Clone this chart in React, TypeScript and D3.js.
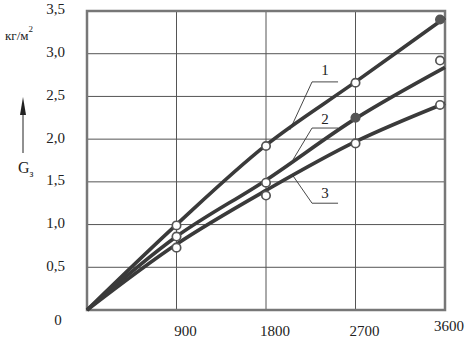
import { useEffect, useRef } from "react";
import * as d3 from "d3";

// time axis (s) and G values (kg/m^2)
const xTicks = [900, 1800, 2700, 3600];
const yTicks = [0.5, 1.0, 1.5, 2.0, 2.5, 3.0, 3.5];

const lineX = [0, 900, 1800, 2700, 3600];
const curve1 = [0, 1.0, 1.93, 2.67, 3.42];
const curve2 = [0, 0.86, 1.52, 2.24, 2.84];
const curve3 = [0, 0.77, 1.4, 1.97, 2.42];

// measured points (marker circles)
const pointX = [900, 1800, 2700, 3550];
const points1 = [0.99, 1.92, 2.66, 3.4];
const points2 = [0.86, 1.49, 2.25, 2.92];
const points3 = [0.73, 1.34, 1.95, 2.4];
const filled1 = [false, false, false, true];
const filled2 = [false, false, true, false];
const filled3 = [false, false, false, false];

// curve labels with leader lines: [label, text x, text y, elbow x, elbow y, tip x, tip y]
const labels: [string, number, number, number, number, number, number][] = [
  ["1", 2393, 2.79, 2263, 2.67, 2041, 2.11],
  ["2", 2393, 2.22, 2263, 2.13, 2072, 1.76],
  ["3", 2393, 1.35, 2263, 1.25, 2072, 1.57],
];

export default function App() {
  const svgRef = useRef<SVGSVGElement>(null);

  useEffect(() => {
    const svg = d3.select(svgRef.current);
    svg.selectAll("*").remove();

    const x = d3.scaleLinear().domain([0, 3600]).range([87, 445]);
    const y = d3.scaleLinear().domain([0, 3.5]).range([310, 11]);
    const font = '"Liberation Serif", "Times New Roman", serif';

    svg.append("rect").attr("width", 469).attr("height", 351).attr("fill", "#fff");

    // grid
    const grid = svg.append("g").attr("stroke", "#555").attr("stroke-width", 1);
    xTicks.slice(0, -1).forEach((t) => {
      grid.append("line").attr("x1", x(t)).attr("x2", x(t)).attr("y1", y(0)).attr("y2", y(3.5));
    });
    yTicks.slice(0, -1).forEach((t) => {
      grid.append("line").attr("x1", x(0)).attr("x2", x(3600)).attr("y1", y(t)).attr("y2", y(t));
    });

    // frame
    svg.append("rect")
      .attr("x", x(0)).attr("y", y(3.5))
      .attr("width", x(3600) - x(0)).attr("height", y(0) - y(3.5))
      .attr("fill", "none").attr("stroke", "#777").attr("stroke-width", 2.5);

    // tick labels
    yTicks.forEach((t) => {
      svg.append("text")
        .attr("x", 65).attr("y", y(t))
        .attr("text-anchor", "end").attr("dominant-baseline", "middle")
        .style("font-family", font).attr("font-size", 15).attr("fill", "#222")
        .text(t.toFixed(1).replace(".", ","));
    });
    svg.append("text")
      .attr("x", 58).attr("y", y(0) + 12)
      .attr("text-anchor", "middle").attr("dominant-baseline", "middle")
      .style("font-family", font).attr("font-size", 15).attr("fill", "#222")
      .text("0");
    xTicks.forEach((t, i) => {
      const last = i === xTicks.length - 1;
      svg.append("text")
        .attr("x", x(t) + (last ? 4 : 9)).attr("y", y(0) + (last ? 18 : 23))
        .attr("text-anchor", "middle").attr("dominant-baseline", "middle")
        .style("font-family", font).attr("font-size", 15).attr("fill", "#222")
        .text(String(t));
    });

    // unit and axis name
    const unit = svg.append("text")
      .attr("x", 5).attr("y", 40)
      .style("font-family", font).attr("font-size", 13).attr("fill", "#222");
    unit.append("tspan").text("кг/м");
    unit.append("tspan").attr("dy", -8).attr("font-size", 9).text("2");

    svg.append("line")
      .attr("x1", 23).attr("x2", 23).attr("y1", 153).attr("y2", 110)
      .attr("stroke", "#222").attr("stroke-width", 1);
    svg.append("path")
      .attr("d", "M23,97 L20,115 L26,115 Z")
      .attr("fill", "#222");
    const g = svg.append("text")
      .attr("x", 18).attr("y", 173)
      .style("font-family", font).attr("font-size", 16).attr("fill", "#222");
    g.append("tspan").text("G");
    g.append("tspan").attr("dy", 4).attr("font-size", 10).text("з");

    // curves
    const line = d3.line<[number, number]>()
      .x((d) => x(d[0])).y((d) => y(d[1]))
      .curve(d3.curveCatmullRom.alpha(0.5));
    [curve1, curve2, curve3].forEach((c) => {
      svg.append("path")
        .datum(lineX.map((v, i) => [v, c[i]] as [number, number]))
        .attr("d", line)
        .attr("fill", "none").attr("stroke", "#3a3a3a").attr("stroke-width", 3.6);
    });

    // markers
    const sets: [number[], boolean[]][] = [[points1, filled1], [points2, filled2], [points3, filled3]];
    sets.forEach(([p, f]) => {
      pointX.forEach((v, i) => {
        svg.append("circle")
          .attr("cx", x(v)).attr("cy", y(p[i])).attr("r", 4.2)
          .attr("fill", f[i] ? "#555" : "#fff")
          .attr("stroke", "#555").attr("stroke-width", 1.7);
      });
    });

    // curve labels
    labels.forEach(([txt, tx, ty, ex, ey, px, py]) => {
      svg.append("polyline")
        .attr("points", `${x(px)},${y(py)} ${x(ex)},${y(ey)} ${x(ex) + 26},${y(ey)}`)
        .attr("fill", "none").attr("stroke", "#333").attr("stroke-width", 0.9);
      svg.append("text")
        .attr("x", x(tx)).attr("y", y(ty))
        .attr("text-anchor", "middle").attr("dominant-baseline", "middle")
        .style("font-family", font).attr("font-size", 15).attr("fill", "#222")
        .text(txt);
    });
  }, []);

  return (
    <div style={{ position: "fixed", left: 0, top: 0 }}>
      <svg ref={svgRef} width={469} height={351} style={{ display: "block" }} />
    </div>
  );
}
